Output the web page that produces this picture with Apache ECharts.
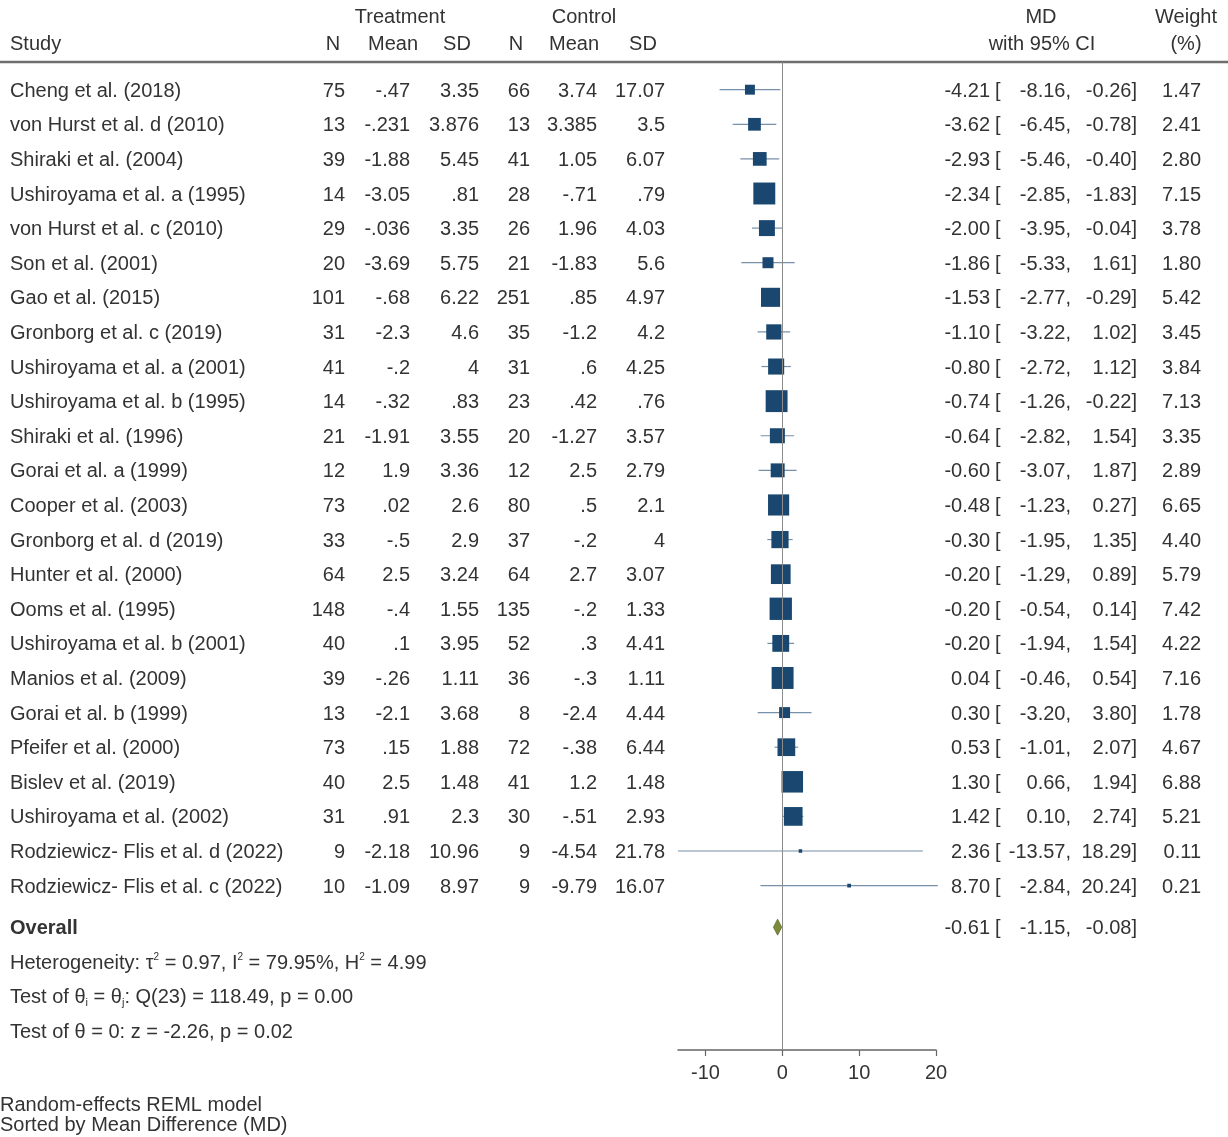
<!DOCTYPE html>
<html>
<head>
<meta charset="utf-8">
<script src="https://cdn.jsdelivr.net/npm/echarts@6/dist/echarts.min.js"></script>
<style>
  html, body { margin: 0; padding: 0; background: #ffffff; }
  #chart { width: 1228px; height: 1137px; }
</style>
</head>
<body>
<div id="chart"></div>
<script>
// ---- Study data (sorted by mean difference) ----
const studies = [
  'Cheng et al. (2018)', 'von Hurst et al. d (2010)', 'Shiraki et al. (2004)',
  'Ushiroyama et al. a (1995)', 'von Hurst et al. c (2010)', 'Son et al. (2001)',
  'Gao et al. (2015)', 'Gronborg et al. c (2019)', 'Ushiroyama et al. a (2001)',
  'Ushiroyama et al. b (1995)', 'Shiraki et al. (1996)', 'Gorai et al. a (1999)',
  'Cooper et al. (2003)', 'Gronborg et al. d (2019)', 'Hunter et al. (2000)',
  'Ooms et al. (1995)', 'Ushiroyama et al. b (2001)', 'Manios et al. (2009)',
  'Gorai et al. b (1999)', 'Pfeifer et al. (2000)', 'Bislev et al. (2019)',
  'Ushiroyama et al. (2002)', 'Rodziewicz- Flis et al. d (2022)', 'Rodziewicz- Flis et al. c (2022)'
];
const treatN    = ['75','13','39','14','29','20','101','31','41','14','21','12','73','33','64','148','40','39','13','73','40','31','9','10'];
const treatMean = ['-.47','-.231','-1.88','-3.05','-.036','-3.69','-.68','-2.3','-.2','-.32','-1.91','1.9','.02','-.5','2.5','-.4','.1','-.26','-2.1','.15','2.5','.91','-2.18','-1.09'];
const treatSD   = ['3.35','3.876','5.45','.81','3.35','5.75','6.22','4.6','4','.83','3.55','3.36','2.6','2.9','3.24','1.55','3.95','1.11','3.68','1.88','1.48','2.3','10.96','8.97'];
const ctrlN     = ['66','13','41','28','26','21','251','35','31','23','20','12','80','37','64','135','52','36','8','72','41','30','9','9'];
const ctrlMean  = ['3.74','3.385','1.05','-.71','1.96','-1.83','.85','-1.2','.6','.42','-1.27','2.5','.5','-.2','2.7','-.2','.3','-.3','-2.4','-.38','1.2','-.51','-4.54','-9.79'];
const ctrlSD    = ['17.07','3.5','6.07','.79','4.03','5.6','4.97','4.2','4.25','.76','3.57','2.79','2.1','4','3.07','1.33','4.41','1.11','4.44','6.44','1.48','2.93','21.78','16.07'];

const md     = [-4.21,-3.62,-2.93,-2.34,-2.00,-1.86,-1.53,-1.10,-0.80,-0.74,-0.64,-0.60,-0.48,-0.30,-0.20,-0.20,-0.20,0.04,0.30,0.53,1.30,1.42,2.36,8.70];
const ciLow  = [-8.16,-6.45,-5.46,-2.85,-3.95,-5.33,-2.77,-3.22,-2.72,-1.26,-2.82,-3.07,-1.23,-1.95,-1.29,-0.54,-1.94,-0.46,-3.20,-1.01,0.66,0.10,-13.57,-2.84];
const ciHigh = [-0.26,-0.78,-0.40,-1.83,-0.04,1.61,-0.29,1.02,1.12,-0.22,1.54,1.87,0.27,1.35,0.89,0.14,1.54,0.54,3.80,2.07,1.94,2.74,18.29,20.24];
const weight = [1.47,2.41,2.80,7.15,3.78,1.80,5.42,3.45,3.84,7.13,3.35,2.89,6.65,4.40,5.79,7.42,4.22,7.16,1.78,4.67,6.88,5.21,0.11,0.21];

// Overall random-effects estimate: MD, lower, upper
const overallEffect = [-0.61, -1.15, -0.08];

const xTicks = [-10, 0, 10, 20];

const footnotes = ['Random-effects REML model', 'Sorted by Mean Difference (MD)'];

// ---- Styling ----
const FONT = '"Liberation Sans", Arial, Helvetica, sans-serif';
const FS = 20;
const TEXT = '#333333';
const NAVY = '#1a476f';
const DIAMOND = '#7c8b3a';
const TEXT_DY = 1.5;   // optical centring of text on row lines

// Row positions on the (inverted) vertical value axis
const rowOf = i => i + 1;
const OVERALL_ROW = studies.length + 1.2;

const fmt = v => v.toFixed(2);

const rows = studies.map((s, i) => [md[i], rowOf(i), ciLow[i], ciHigh[i], weight[i]]);

function txt(x, y, s, align, extra) {
  return {
    type: 'text',
    silent: true,
    style: Object.assign({
      x: x, y: y + TEXT_DY, text: s,
      align: align, verticalAlign: 'middle',
      fill: TEXT, fontSize: FS, fontFamily: FONT
    }, extra || {})
  };
}

const chart = echarts.init(document.getElementById('chart'), null, { renderer: 'canvas' });

const hdr = (x, y, s, align) => ({
  type: 'text', silent: true, x: x, y: y,
  style: { text: s, align: align, verticalAlign: 'middle', fill: TEXT, fontSize: FS, fontFamily: FONT }
});

const option = {
  backgroundColor: '#ffffff',
  animation: false,
  grid: { left: 678, width: 258, top: 62, height: 988, containLabel: false },
  xAxis: {
    type: 'value',
    min: Math.min.apply(null, ciLow),
    max: xTicks[xTicks.length - 1],
    axisLine: { show: true, onZero: false, lineStyle: { color: '#666666', width: 1.5 } },
    axisTick: { show: true, customValues: xTicks, length: 6, lineStyle: { color: '#666666', width: 1.2 } },
    axisLabel: { customValues: xTicks, color: TEXT, fontSize: FS, fontFamily: FONT, margin: 13 },
    splitLine: { show: false }
  },
  yAxis: {
    type: 'value', inverse: true, min: 0.2, max: 28.75, show: false
  },
  series: [
    // confidence-interval whiskers + zero reference line
    {
      type: 'custom',
      z: 2,
      clip: false,
      data: rows,
      renderItem: function (params, api) {
        const a = api.coord([api.value(2), api.value(1)]);
        const b = api.coord([api.value(3), api.value(1)]);
        return {
          type: 'line',
          shape: { x1: a[0], y1: a[1], x2: b[0], y2: b[1] },
          style: { stroke: NAVY, lineWidth: 1.2, opacity: 0.6 }
        };
      },
      markLine: {
        silent: true,
        symbol: 'none',
        label: { show: false },
        lineStyle: { color: '#8c8c8c', width: 1, type: 'solid' },
        data: [{ xAxis: 0 }]
      }
    },
    // study estimates, square area proportional to weight
    {
      type: 'scatter',
      z: 3,
      data: rows,
      symbol: 'rect',
      symbolSize: v => Math.max(3.5, 8.2 * Math.sqrt(v[4])),
      itemStyle: { color: NAVY, opacity: 1 }
    },
    // overall diamond
    {
      type: 'custom',
      z: 4,
      clip: false,
      data: [[overallEffect[0], OVERALL_ROW, overallEffect[1], overallEffect[2]]],
      renderItem: function (params, api) {
        const c = api.coord([api.value(0), api.value(1)]);
        const l = api.coord([api.value(2), api.value(1)]);
        const r = api.coord([api.value(3), api.value(1)]);
        const h = 8;
        return {
          type: 'polygon',
          shape: { points: [[l[0], c[1]], [c[0], c[1] - h], [r[0], c[1]], [c[0], c[1] + h]] },
          style: { fill: DIAMOND, stroke: '#5f6e2a', lineWidth: 0.8 }
        };
      }
    },
    // table text for each study row
    {
      type: 'custom',
      z: 5,
      clip: false,
      silent: true,
      data: rows,
      renderItem: function (params, api) {
        const i = params.dataIndex;
        const y = api.coord([0, api.value(1)])[1];
        return {
          type: 'group',
          children: [
            txt(10, y, studies[i], 'left'),
            txt(345, y, treatN[i], 'right'),
            txt(410, y, treatMean[i], 'right'),
            txt(479, y, treatSD[i], 'right'),
            txt(530, y, ctrlN[i], 'right'),
            txt(597, y, ctrlMean[i], 'right'),
            txt(665, y, ctrlSD[i], 'right'),
            txt(990, y, fmt(md[i]), 'right'),
            txt(995, y, '[', 'left'),
            txt(1071, y, fmt(ciLow[i]) + ',', 'right'),
            txt(1137, y, fmt(ciHigh[i]) + ']', 'right'),
            txt(1201, y, fmt(weight[i]), 'right')
          ]
        };
      }
    },
    // overall row and heterogeneity statistics
    {
      type: 'custom',
      z: 5,
      clip: false,
      silent: true,
      data: [[0, OVERALL_ROW]],
      renderItem: function (params, api) {
        const y0 = api.coord([0, OVERALL_ROW])[1];
        const y1 = api.coord([0, OVERALL_ROW + 1])[1];
        const y2 = api.coord([0, OVERALL_ROW + 2])[1];
        const y3 = api.coord([0, OVERALL_ROW + 3])[1];
        const base = { fill: TEXT, fontSize: FS, fontFamily: FONT, lineHeight: 22 };
        const rich = {
          t: base,
          sup: { fill: TEXT, fontSize: 10, fontFamily: FONT, verticalAlign: 'top', lineHeight: 22 },
          sub: { fill: TEXT, fontSize: 11, fontFamily: FONT, verticalAlign: 'bottom', lineHeight: 20 }
        };
        return {
          type: 'group',
          children: [
            txt(10, y0, 'Overall', 'left', { fontWeight: 'bold' }),
            txt(990, y0, fmt(overallEffect[0]), 'right'),
            txt(995, y0, '[', 'left'),
            txt(1071, y0, fmt(overallEffect[1]) + ',', 'right'),
            txt(1137, y0, fmt(overallEffect[2]) + ']', 'right'),
            txt(10, y1, '{t|Heterogeneity: τ}{sup|2}{t| = 0.97, I}{sup|2}{t| = 79.95%, H}{sup|2}{t| = 4.99}', 'left', { rich: rich }),
            txt(10, y2, '{t|Test of θ}{sub|i}{t| = θ}{sub|j}{t|: Q(23) = 118.49, p = 0.00}', 'left', { rich: rich }),
            txt(10, y3, 'Test of θ = 0: z = -2.26, p = 0.02', 'left')
          ]
        };
      }
    }
  ],
  // column headings, rule under them, and footnotes
  graphic: [
    hdr(400, 17, 'Treatment', 'center'),
    hdr(584, 17, 'Control', 'center'),
    hdr(10, 44, 'Study', 'left'),
    hdr(333, 44, 'N', 'center'),
    hdr(393, 44, 'Mean', 'center'),
    hdr(457, 44, 'SD', 'center'),
    hdr(516, 44, 'N', 'center'),
    hdr(574, 44, 'Mean', 'center'),
    hdr(643, 44, 'SD', 'center'),
    hdr(1041, 17, 'MD', 'center'),
    hdr(1042, 44, 'with 95% CI', 'center'),
    hdr(1186, 17, 'Weight', 'center'),
    hdr(1186, 44, '(%)', 'center'),
    {
      type: 'line', silent: true,
      shape: { x1: 0, y1: 62, x2: 1228, y2: 62 },
      style: { stroke: '#6e6e6e', lineWidth: 2.5 }
    },
    hdr(0, 1105, footnotes[0], 'left'),
    hdr(0, 1125, footnotes[1], 'left')
  ]
};

chart.setOption(option);
</script>
</body>
</html>
